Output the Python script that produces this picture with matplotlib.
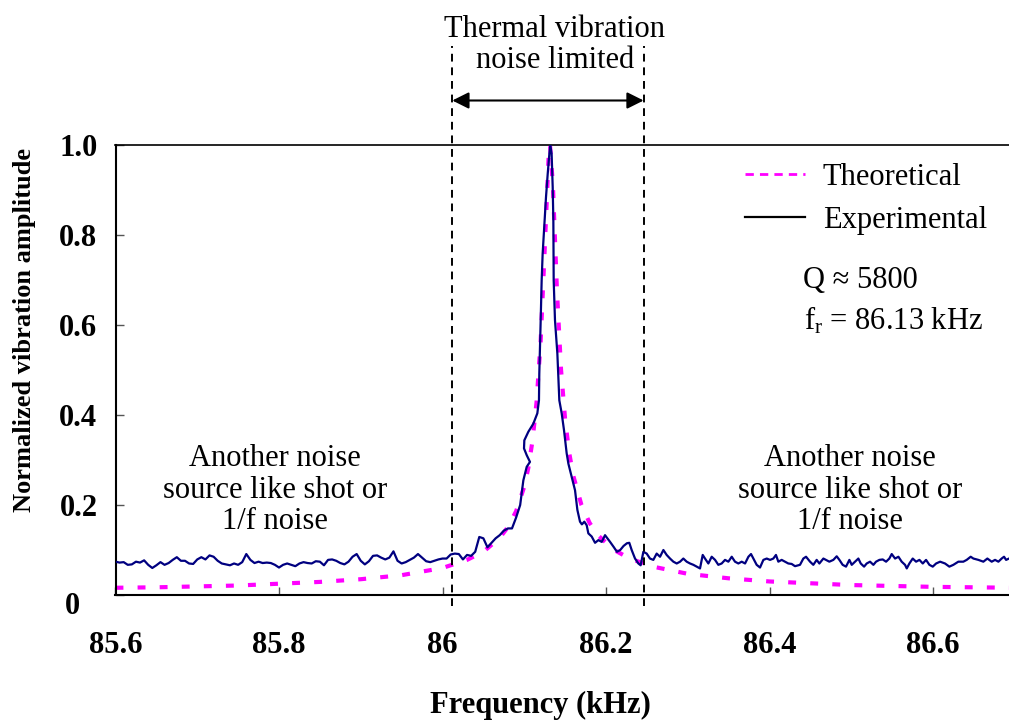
import numpy as np
import matplotlib
matplotlib.use("Agg")
import matplotlib.pyplot as plt
import matplotlib.transforms as mtransforms
from matplotlib.lines import Line2D

plt.rcParams['font.family'] = ['Liberation Serif', 'DejaVu Serif']
plt.rcParams['mathtext.fontset'] = 'custom'
plt.rcParams['mathtext.rm'] = 'Liberation Serif'
plt.rcParams['mathtext.it'] = 'Liberation Serif:italic'

# ---------------- data ----------------
# Experimental: baseline below resonance sampled every 0.005 kHz from 85.600
exp_left_start = 85.600
exp_left_step = 0.005
exp_left_amp = [
    0.073, 0.071, 0.072, 0.066, 0.067, 0.073, 0.071, 0.076, 0.066, 0.059,
    0.065, 0.072, 0.066, 0.070, 0.077, 0.083, 0.075, 0.075, 0.069, 0.068,
    0.078, 0.083, 0.078, 0.087, 0.084, 0.075, 0.069, 0.067, 0.065, 0.069,
    0.066, 0.072, 0.090, 0.077, 0.070, 0.073, 0.070, 0.071, 0.070, 0.066,
    0.060, 0.066, 0.069, 0.066, 0.063, 0.069, 0.072, 0.070, 0.069, 0.074,
    0.073, 0.065, 0.077, 0.078, 0.075, 0.070, 0.067, 0.073, 0.084, 0.090,
    0.075, 0.067, 0.074, 0.086, 0.087, 0.082, 0.078, 0.082, 0.096, 0.075,
    0.069, 0.072, 0.077, 0.082, 0.090, 0.082, 0.074, 0.072, 0.075, 0.078,
    0.080, 0.080, 0.089, 0.091, 0.090, 0.078, 0.088, 0.086, 0.095, 0.128,
    0.125, 0.105, 0.115, 0.125, 0.132, 0.142, 0.147, 0.147, 0.171, 0.199,
]

# Experimental: resonance and upper side (frequency, amplitude)
exp_peak_freq = [
    86.0969, 86.0989, 86.1030, 86.1070, 86.1030, 86.0997, 86.1001, 86.1050,
    86.1111, 86.1160, 86.1180, 86.1184, 86.1193, 86.1201, 86.1213, 86.1225,
    86.1242, 86.1266, 86.1287, 86.1307, 86.1319, 86.1335, 86.1348, 86.1356,
    86.1360, 86.1376, 86.1405, 86.1429, 86.1458, 86.1486, 86.1519, 86.1540,
    86.1580, 86.1621, 86.1650, 86.1682, 86.1705, 86.1735, 86.1764, 86.1784,
    86.1825, 86.1866, 86.1907, 86.1948, 86.1988,
]
exp_peak_amp = [
    0.225, 0.254, 0.284, 0.295, 0.310, 0.325, 0.343, 0.362,
    0.380, 0.403, 0.432, 0.491, 0.551, 0.610, 0.699, 0.758,
    0.810, 0.884, 0.936, 0.980, 1.000, 0.980, 0.906, 0.832,
    0.699, 0.610, 0.536, 0.432, 0.403, 0.366, 0.314, 0.291,
    0.262, 0.232, 0.188, 0.162, 0.156, 0.162, 0.154, 0.136,
    0.129, 0.115, 0.121, 0.117, 0.132,
]

exp_right_freq = [
    86.2050, 86.2093, 86.2134, 86.2174, 86.2215, 86.2256, 86.2285, 86.2314,
    86.2355, 86.2396, 86.2424, 86.2457, 86.2498, 86.2538, 86.2579, 86.2620,
    86.2661, 86.2702, 86.2742, 86.2783, 86.2824, 86.2865, 86.2906, 86.2946,
    86.2987, 86.3028, 86.3069, 86.3110, 86.3150, 86.3183, 86.3211, 86.3252,
    86.3293, 86.3334, 86.3374, 86.3415, 86.3456, 86.3497, 86.3538, 86.3578,
    86.3619, 86.3660, 86.3701, 86.3742, 86.3774, 86.3803, 86.3843, 86.3884,
    86.3925, 86.3966, 86.4007, 86.4047, 86.4079, 86.4108, 86.4149, 86.4190,
    86.4230, 86.4271, 86.4312, 86.4373, 86.4414, 86.4447, 86.4496, 86.4536,
    86.4577, 86.4610, 86.4659, 86.4691, 86.4732, 86.4781, 86.4822, 86.4855,
    86.4895, 86.4936, 86.4977, 86.5006, 86.5046, 86.5087, 86.5116, 86.5157,
    86.5189, 86.5230, 86.5271, 86.5303, 86.5344, 86.5385, 86.5426, 86.5466,
    86.5495, 86.5536, 86.5577, 86.5617, 86.5658, 86.5679, 86.5711, 86.5752,
    86.5793, 86.5834, 86.5875, 86.5915, 86.5956, 86.5997, 86.6038, 86.6087,
    86.6147, 86.6200, 86.6249, 86.6310, 86.6371, 86.6412, 86.6461, 86.6494,
    86.6555, 86.6616, 86.6665, 86.6718, 86.6759, 86.6800, 86.6840, 86.6869,
    86.6894, 86.6930,
]
exp_right_amp = [
    0.117, 0.106, 0.095, 0.099, 0.108, 0.114, 0.115, 0.099,
    0.080, 0.069, 0.065, 0.095, 0.091, 0.080, 0.077, 0.091,
    0.084, 0.099, 0.088, 0.080, 0.073, 0.069, 0.073, 0.080,
    0.073, 0.069, 0.066, 0.062, 0.058, 0.088, 0.080, 0.069,
    0.084, 0.077, 0.066, 0.069, 0.077, 0.073, 0.084, 0.073,
    0.069, 0.073, 0.069, 0.084, 0.090, 0.080, 0.066, 0.060,
    0.077, 0.080, 0.077, 0.080, 0.088, 0.073, 0.077, 0.073,
    0.069, 0.068, 0.063, 0.066, 0.080, 0.084, 0.073, 0.066,
    0.077, 0.069, 0.080, 0.077, 0.073, 0.077, 0.085, 0.077,
    0.066, 0.062, 0.077, 0.066, 0.073, 0.080, 0.069, 0.062,
    0.069, 0.073, 0.066, 0.073, 0.077, 0.078, 0.073, 0.080,
    0.090, 0.080, 0.084, 0.073, 0.066, 0.058, 0.069, 0.080,
    0.073, 0.077, 0.069, 0.077, 0.066, 0.062, 0.069, 0.073,
    0.069, 0.062, 0.066, 0.073, 0.073, 0.077, 0.084, 0.080,
    0.077, 0.073, 0.080, 0.073, 0.077, 0.073, 0.080, 0.084,
    0.077, 0.080,
]

# Theoretical curve
theo_freq = [85.60, 85.65, 85.70, 85.75, 85.80, 85.85, 85.90, 85.95, 86.00,
             86.03, 86.05, 86.07, 86.08, 86.09, 86.10, 86.105, 86.11, 86.115,
             86.12, 86.125, 86.13, 86.1315, 86.135, 86.14, 86.145, 86.15,
             86.155, 86.16, 86.17, 86.18, 86.19, 86.21, 86.23, 86.26, 86.30,
             86.35, 86.40, 86.45, 86.50, 86.55, 86.60, 86.65, 86.695]
theo_amp = [0.015, 0.016, 0.018, 0.020, 0.024, 0.028, 0.034, 0.043, 0.059,
            0.077, 0.095, 0.126, 0.150, 0.185, 0.240, 0.282, 0.341, 0.427,
            0.561, 0.768, 0.982, 1.000, 0.912, 0.676, 0.500, 0.389,
            0.315, 0.264, 0.199, 0.159, 0.132, 0.099, 0.079, 0.061, 0.046,
            0.036, 0.029, 0.025, 0.021, 0.019, 0.017, 0.016, 0.015]

x_ticks = [85.6, 85.8, 86.0, 86.2, 86.4, 86.6]
x_ticklabels = ["85.6", "85.8", "86", "86.2", "86.4", "86.6"]
y_ticks = [0, 0.2, 0.4, 0.6, 0.8, 1.0]
y_ticklabels = ["0", "0.2", "0.4", "0.6", "0.8", "1.0"]

band_left = 86.012
band_right = 86.246

# ---------------- figure ----------------
W, H = 1009, 720
fig = plt.figure(figsize=(W / 100, H / 100), dpi=100)
ax = fig.add_axes([115.5 / W, (H - 594.5) / H, (W - 115.5) / W, (594.5 - 145) / H])

exp_left_freq = exp_left_start + exp_left_step * np.arange(len(exp_left_amp))
exp_freq = np.concatenate([exp_left_freq, exp_peak_freq, exp_right_freq])
exp_amp = np.concatenate([exp_left_amp, exp_peak_amp, exp_right_amp])

ax.plot(exp_freq, exp_amp, color='#000080', lw=1.6, zorder=3)
ax.plot(theo_freq, theo_amp, color='#FF00FF', lw=3.0, dashes=(1.9, 3.4), zorder=2)

ax.set_xlim(85.6, 85.6 + (W - 115.5) / 817.5)
ax.set_ylim(0, 1.0)
ax.set_xticks(x_ticks)
ax.set_xticklabels(x_ticklabels, fontsize=22, fontweight='bold')
ax.set_yticks(y_ticks)
ax.set_yticklabels(y_ticklabels, fontsize=22, fontweight='bold')
ax.tick_params(axis='x', direction='in', length=6, width=1, color='#555555', pad=26)
ax.tick_params(axis='y', direction='in', length=6, width=1, color='#555555', pad=13)
ax.spines['right'].set_visible(False)
for s in ['left', 'bottom']:
    ax.spines[s].set_linewidth(1.5)
    ax.spines[s].set_color('black')
ax.spines['top'].set_linewidth(1.2)

# the "0" label sits a little lower-left in the original
zero_lbl = ax.get_yticklabels()[0]
zero_lbl.set_transform(zero_lbl.get_transform() +
                       mtransforms.ScaledTranslation(-17 / 100, -8 / 100, fig.dpi_scale_trans))

fig.text(540 / W, 1 - 705 / H, "Frequency (kHz)", fontsize=22, fontweight='bold',
         ha='center', va='center')
fig.text(25 / W, 1 - 330 / H, "Normalized vibration amplitude", fontsize=19,
         fontweight='bold', ha='center', va='center', rotation=90)

# vertical band markers and arrow
for xb in (band_left, band_right):
    ax.plot([xb, xb], [-0.025, 1.22], color='black', lw=1.4, dashes=(4, 3),
            clip_on=False, zorder=4)
ax.annotate("", xy=(band_left, 1.099), xytext=(band_right, 1.099),
            arrowprops=dict(arrowstyle='<|-|>', color='black', lw=1.5,
                            mutation_scale=25, shrinkA=0, shrinkB=0),
            annotation_clip=False)
fig.text(555 / W, 1 - 45 / H, "Thermal vibration\nnoise limited", fontsize=22,
         ha='center', va='center', linespacing=1.12)

# noise annotations
for cx in (275, 850):
    fig.text(cx / W, 1 - 490 / H, "Another noise\nsource like shot or\n1/f noise",
             fontsize=22, ha='center', va='center', linespacing=1.12)

# legend
handles = [Line2D([], [], color='#FF00FF', lw=2, dashes=(3, 2.2)),
           Line2D([], [], color='black', lw=1.6)]
ax.legend(handles, ["Theoretical", "Experimental"], loc='upper left',
          bbox_to_anchor=(745 / W, 1 - 163 / H), bbox_transform=fig.transFigure,
          frameon=False, fontsize=22, handlelength=1.95, handletextpad=0.6,
          labelspacing=0.45, borderpad=0, borderaxespad=0)

fig.text(860 / W, 1 - 281 / H, "Q \u2248 5800", fontsize=22, ha='center', va='center')
fig.text(893 / W, 1 - 321 / H, r"f$_\mathregular{r}$ = 86.13 kHz", fontsize=22,
         ha='center', va='center')

fig.savefig("out.png", dpi=100)
